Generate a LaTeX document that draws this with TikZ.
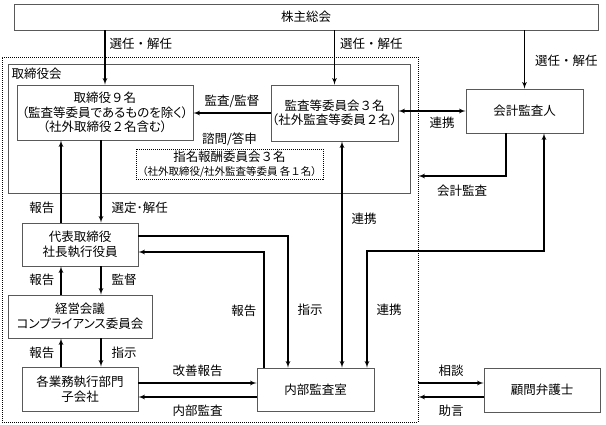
\documentclass[tikz,border=0pt]{standalone}
\usepackage{fontspec}
\setmainfont{Noto Sans CJK JP}[RawFeature=+palt]
\newfontfamily\fw{Noto Sans CJK JP}
\usetikzlibrary{arrows, positioning}

\begin{document}
\begin{tikzpicture}[x=1pt, y=-1pt, >=latex', font=\fontsize{12.5}{14.5}\selectfont]
  \tikzstyle{block} = [draw=black!65, line width=0.9pt, rectangle, align=center, inner sep=0pt]
  \tikzstyle{frame} = [draw=black!65, line width=0.9pt, rectangle, inner sep=0pt]
  \tikzstyle{dotbox} = [draw, line width=0.9pt, dash pattern=on 1pt off 1pt, rectangle, inner sep=0pt]
  \tikzstyle{line} = [line width=1.2pt]
  \tikzstyle{lbl} = [inner sep=0pt]
  \tikzstyle{tmp} = [coordinate]

  \useasboundingbox (0,0) rectangle (606,425);

  % frames
  \node [dotbox, minimum width=416pt, minimum height=365pt] (company) at (210,239.5) {};
  \node [frame, minimum width=402pt, minimum height=129pt] (board) at (209,128.5) {};
  \node [lbl, anchor=north west] (boardname) at ([xshift=4pt, yshift=-4pt]board.north west) {取締役会};

  % boxes
  \node [block, minimum width=584pt, minimum height=26pt] (soukai) at (306,17) {株主総会};
  \node [block, minimum width=176pt, minimum height=55pt] (board9) at (105,112.5) {取締役{\fw ９}名\\（監査等委員であるものを除く）\\（社外取締役{\fw ２}名含む）};
  \node [block, minimum width=127pt, minimum height=56pt] (kansa) at (334.5,113) {監査等委員会{\fw ３}名\\（社外監査等委員{\fw ２}名）};
  \node [block, minimum width=117pt, minimum height=44pt] (kaikei) at (524.5,111) {会計監査人};
  \node [dotbox, minimum width=187pt, minimum height=30pt, align=center] (shimei) at (229.5,164) {指名報酬委員会{\fw ３}名\\{\fontsize{10.5}{12}\selectfont （社外取締役/社外監査等委員 各{\fw １}名）}};
  \node [lbl, above=3pt of shimei] (shimon) {諮問/答申};
  \node [block, minimum width=116pt, minimum height=43pt] (daihyo) at (80,244.5) {代表取締役\\社長執行役員};
  \node [block, minimum width=144pt, minimum height=43pt] (keiei) at (80,316.5) {経営会議\\コンプライアンス委員会};
  \node [block, minimum width=116pt, minimum height=44pt] (gyomu) at (80,389) {各業務執行部門\\子会社};
  \node [block, minimum width=117pt, minimum height=43pt] (naibu) at (315.5,389.5) {内部監査室};
  \node [block, minimum width=116pt, minimum height=44pt] (komon) at (542,390) {顧問弁護士};

  \node [tmp] (uprep) at (61,0) {};
  \node [tmp] (downsel) at (101,0) {};
  \node [tmp] (kkturn) at (506,176) {};
  \node [tmp] (sijiline) at (288,236) {};
  \node [tmp] (hokokuline) at (264,252) {};
  \node [tmp] (renkeiline) at (342,0) {};
  \node [tmp] (rkleft) at (367,251) {};
  \node [tmp] (rkright) at (544,251) {};

  % shareholders
  \draw [line, ->] (soukai.south -| board9) -- node [lbl, right=4pt, pos=0.24] {選任{\fw ・}解任} (board9.north);
  \draw [line, ->] (soukai.south -| kansa) -- node [lbl, right=5pt, pos=0.24] {選任{\fw ・}解任} (kansa.north);
  \draw [line, ->] (soukai.south -| kaikei) -- node [lbl, right=10pt, pos=0.52] {選任{\fw ・}解任} (kaikei.north);

  \draw [line, ->] (kansa.west) -- node [lbl, above=5pt] {監査/監督} (kansa.west -| board9.east);
  \draw [line, <->] (kaikei.west -| kansa.east) -- node [lbl, below=5pt, pos=0.65] {連携} (kaikei.west);
  \draw [line, ->] (kaikei.south -| kkturn) |- node [lbl, below=8pt, pos=0.75] {会計監査} (company.east |- kkturn);

  % left column
  \draw [line, ->] (daihyo.north -| uprep) -- node [lbl, left=6pt, pos=0.18] {報告} (board9.south -| uprep);
  \draw [line, ->] (board9.south -| downsel) -- node [lbl, right=10pt, pos=0.82] {選定･解任} (daihyo.north -| downsel);
  \draw [line, ->] (keiei.north -| uprep) -- node [lbl, left=6pt, pos=0.52] {報告} (daihyo.south -| uprep);
  \draw [line, ->] (daihyo.south -| downsel) -- node [lbl, right=10pt, pos=0.48] {監督} (keiei.north -| downsel);
  \draw [line, ->] (gyomu.north -| uprep) -- node [lbl, left=6pt, pos=0.48] {報告} (keiei.south -| uprep);
  \draw [line, ->] (keiei.south -| downsel) -- node [lbl, right=10pt, pos=0.52] {指示} (gyomu.north -| downsel);

  \draw [line, ->] ([yshift=6pt]gyomu.east) -- node [lbl, above=6pt] {改善報告} ([yshift=6pt]gyomu.east -| naibu.west);
  \draw [line, ->] ([yshift=-8pt]gyomu.east -| naibu.west) -- node [lbl, below=7pt] {内部監査} ([yshift=-8pt]gyomu.east);

  % internal audit
  \draw [line, ->] (daihyo.east |- sijiline) -| node [lbl, right=9pt, pos=0.78] {指示} (naibu.north -| sijiline);
  \draw [line, ->] (naibu.north -| hokokuline) |- node [lbl, left=7pt, pos=0.245] {報告} (daihyo.east |- hokokuline);
  \draw [line, <->] (kansa.south -| renkeiline) -- node [lbl, right=9pt, pos=0.34] {連携} (naibu.north -| renkeiline);
  \draw [line, <->] (naibu.north -| rkleft) -- node [lbl, right=9pt] {連携} (rkleft) -- (rkright) -- (kaikei.south -| rkright);

  % lawyer
  \draw [line, ->] ([yshift=7pt]komon.west -| company.east) -- node [lbl, above=6pt] {相談} ([yshift=7pt]komon.west);
  \draw [line, ->] ([yshift=-7pt]komon.west) -- node [lbl, below=7pt] {助言} ([yshift=-7pt]komon.west -| company.east);
\end{tikzpicture}
\end{document}
